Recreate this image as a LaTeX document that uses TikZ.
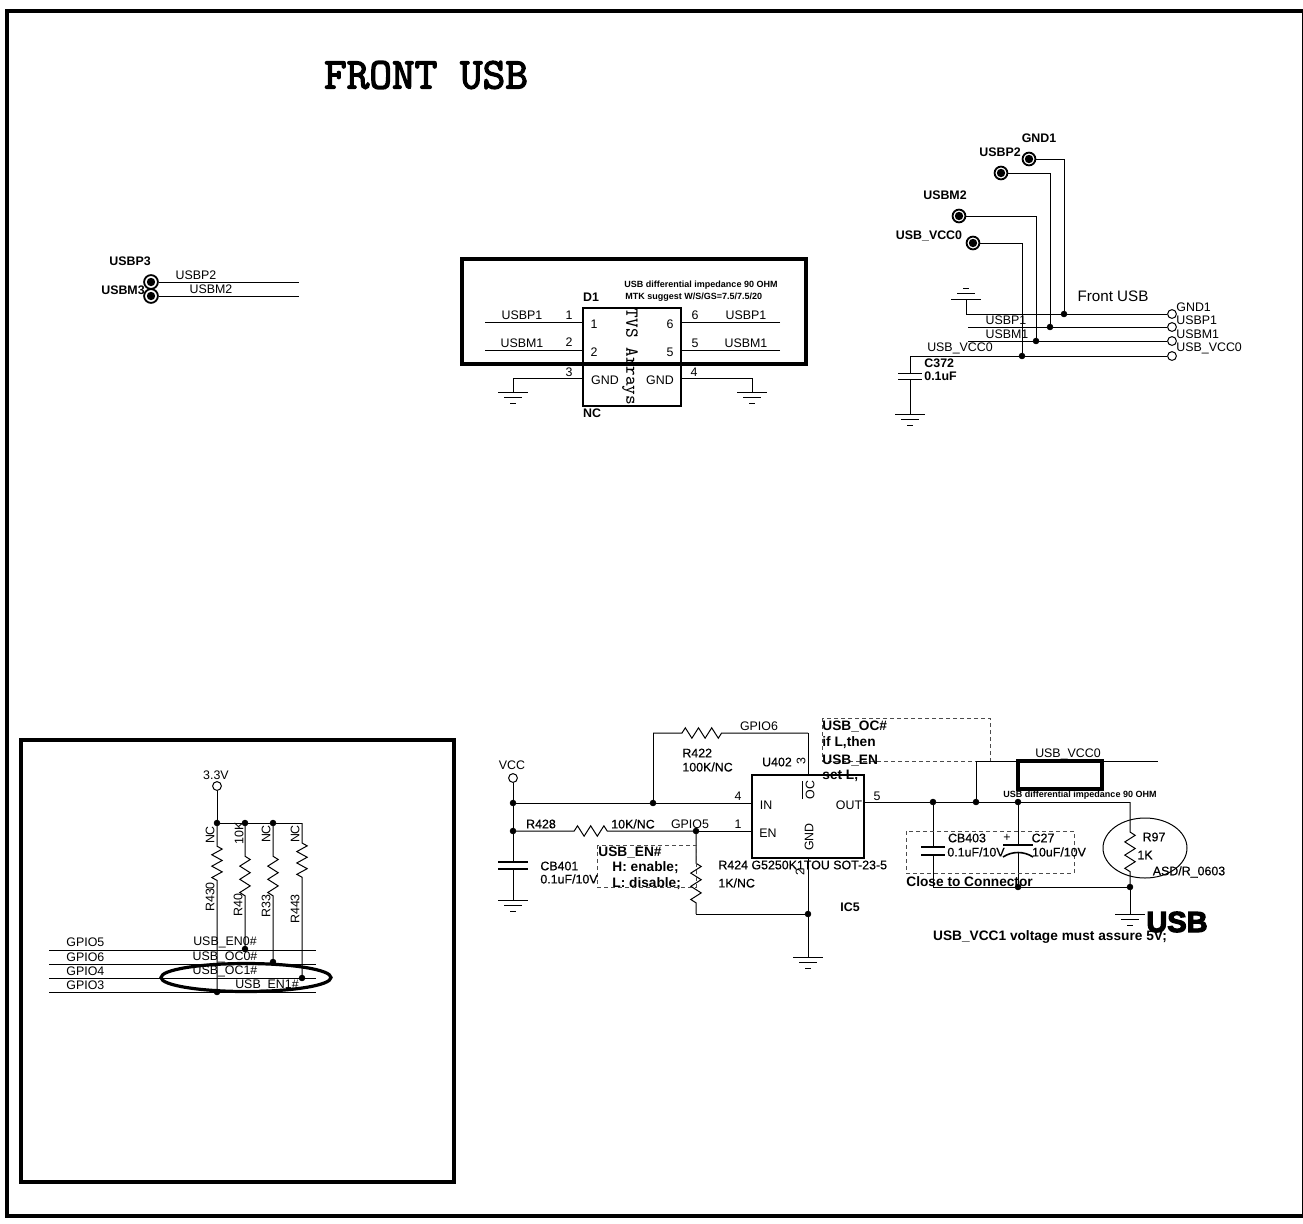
\documentclass[tikz,border=0pt]{standalone}
\usepackage{fontspec}
\setmainfont{Liberation Sans}
\newfontfamily\medfont[FakeBold=0.5]{Liberation Sans}
\newfontfamily\heavyfont[FakeBold=4]{Liberation Sans Bold}
\newfontfamily\titlefont[FakeBold=3]{Latin Modern Mono}
\usetikzlibrary{calc,positioning,decorations.pathmorphing}
\tikzset{
    lbl/.style={
    inner sep=0pt,font=\fontsize{6.2}{6.2}\selectfont,text=black
    },
    med/.style={
    inner sep=0pt,font=\fontsize{6.2}{6.2}\medfont,text=black
    },
    blbl/.style={
    inner sep=0pt,font=\fontsize{6.2}{6.2}\bfseries,text=black
    },
    bnote/.style={
    inner sep=0pt,font=\fontsize{6.85}{6.85}\bfseries,text=black
    },
    note/.style={
    inner sep=0pt,font=\fontsize{4.5}{4.5}\bfseries,text=black
    },
    dot/.style={
    circle,draw=black,fill=black,inner sep=0pt,minimum size=2.8pt
    },
    term/.style={
    circle,draw=black,fill=white,inner sep=0pt,minimum size=4.4pt,line width=0.5pt
    },
    pad/.style={
    circle,draw=black,fill=white,inner sep=0pt,minimum size=6.4pt,line width=0.9pt,
    path picture={\fill[black] (path picture bounding box.center) circle (2.1pt);}
    },
    wire/.style={
    draw=black,line width=0.5pt
    },
    heavy/.style={
    draw=black,line width=2.4pt
    },
    part/.style={
    rectangle,draw=black,line width=0.7pt,inner sep=0pt
    },
    dbox/.style={
    draw=black!70,line width=0.4pt,dash pattern=on 2pt off 1.5pt
    },
    res/.style 2 args={
    wire,decorate,decoration={zigzag,segment length=6.6pt,amplitude=2.6pt,
    pre length=#1,post length=#2}
    },
    gnd/.pic={
    \draw[wire] (-15,0) -- (15,0) (-9,5.5) -- (9,5.5) (-3,11) -- (3,11);
    },
}
\begin{document}
\begin{tikzpicture}[x=0.5pt,y=-0.5pt]
   \useasboundingbox (0,0) rectangle (1303,1223);
   \draw[draw=black,line width=2pt] (7,10.5) rectangle (1304,1216);
   \node[inner sep=0pt,font=\fontsize{22}{22}\titlefont] (title) at (426,75) {FRONT USB};

   % test pads
   \node[pad,minimum size=6.9pt] (P3) at (151,282) {};
   \node[pad,minimum size=6.9pt] (M3) at (151,296) {};
   \coordinate (P3e) at (299,282);
   \coordinate (M3e) at (299,296);
   \node[blbl] (P3t) at (130,261) {USBP3};
   \node[blbl] (M3t) at (123,290) {USBM3};
   \node[lbl] (P3n) at (196,275) {USBP2};
   \node[lbl] (M3n) at (211,289) {USBM2};
   \draw[wire] (P3) -- (P3e);
   \draw[wire] (M3) -- (M3e);

   % TVS
   \draw[heavy] (462,259) rectangle (806,364);
   \node[part,minimum width=49pt,minimum height=49pt] (D1) at (632,357) {};
   \node[blbl] (D1t) at (591,297) {D1};
   \node[blbl] (D1n) at (592,413) {NC};
   \node[note] (Dz) at (701,285) {USB differential impedance 90 OHM};
   \node[note,anchor=west] (Dm) at (625,297) {MTK suggest W/S/GS=7.5/7.5/20};
   \node[inner sep=0pt,rotate=-90,font=\fontsize{9.2}{9.2}\ttfamily] (Da) at (630,357) {TVS Arrays};
   \coordinate (A1) at (485,322);
   \coordinate (A2) at (485,350);
   \coordinate (A3) at (513,392);
   \coordinate (A6) at (780,322);
   \coordinate (A5) at (780,350);
   \coordinate (A4) at (752,392);
   \draw[wire] (A1) -- (D1.west |- A1);
   \draw[wire] (A2) -- (D1.west |- A2);
   \draw[wire] (A6) -- (D1.east |- A6);
   \draw[wire] (A5) -- (D1.east |- A5);
   \draw[wire] (A3) -- ($(A3 |- D1.west)+(0,21)$) -- ($(D1.west)+(0,21)$);
   \draw[wire] (A4) -- ($(A4 |- D1.east)+(0,21)$) -- ($(D1.east)+(0,21)$);
   \pic at (A3) {gnd};
   \pic at (A4) {gnd};
   \node[lbl] (Dw1) at (522,315) {USBP1};
   \node[lbl] (Dw2) at (522,343) {USBM1};
   \node[lbl] (Dw6) at (746,315) {USBP1};
   \node[lbl] (Dw5) at (746,343) {USBM1};
   \node[lbl] (Dn1) at (569,315) {1};
   \node[lbl] (Dn2) at (569,342) {2};
   \node[lbl] (Dn3) at (569,372) {3};
   \node[lbl] (Dn4) at (694,372) {4};
   \node[lbl] (Dn5) at (695,343) {5};
   \node[lbl] (Dn6) at (695,315) {6};
   \node[lbl] (Di1) at (594,324) {1};
   \node[lbl] (Di2) at (594,352) {2};
   \node[lbl] (Di6) at (670,324) {6};
   \node[lbl] (Di5) at (670,352) {5};
   \node[lbl] (Dg1) at (605,380) {GND};
   \node[lbl] (Dg2) at (660,380) {GND};

   % front USB header
   \node[pad] (Pg) at (1029,159) {};
   \node[pad] (Pp) at (1001,173) {};
   \node[pad] (Pm) at (959,216) {};
   \node[pad] (Pv) at (973,243) {};
   \node[dot] (Jg) at (1064,314) {};
   \node[dot] (Jp) at (1050,327) {};
   \node[dot] (Jm) at (1036,341) {};
   \node[dot] (Jv) at (1022,356) {};
   \node[term] (Tg) at (1172,314) {};
   \node[term] (Tp) at (1172,327) {};
   \node[term] (Tm) at (1172,341) {};
   \node[term] (Tv) at (1172,356) {};
   \coordinate (Gf) at (966,299);
   \coordinate (Lp) at (968,327);
   \coordinate (Lm) at (968,341);
   \coordinate (Cf) at (910,373);
   \coordinate (Cg) at (910,379);
   \coordinate (Gc) at (910,414);
   \draw[wire] (Pg) -| (Jg);
   \draw[wire] (Pp) -| (Jp);
   \draw[wire] (Pm) -| (Jm);
   \draw[wire] (Pv) -| (Jv);
   \draw[wire] (Gf) |- (Jg) -- (Tg);
   \draw[wire] (Lp) -- (Jp) -- (Tp);
   \draw[wire] (Lm) -- (Jm) -- (Tm);
   \draw[wire] (Cf) |- (Jv) -- (Tv);
   \draw[wire] (Cg) -- (Gc);
   \draw[wire] ($(Cf)+(-12,0)$) -- ($(Cf)+(12,0)$);
   \draw[wire] ($(Cg)+(-12,0)$) -- ($(Cg)+(12,0)$);
   \pic at (Gc) {gnd};
   \pic[yscale=-1] at (Gf) {gnd};
   \node[blbl] (Ptg) at (1039,138) {GND1};
   \node[blbl] (Ptp) at (1000,152) {USBP2};
   \node[blbl] (Ptm) at (945,195) {USBM2};
   \node[blbl] (Ptv) at (929,236) {USB\_VCC0};
   \node[inner sep=0pt,font=\fontsize{7.6}{7.6}\selectfont] (Ft) at (1113,296) {Front USB};
   \node[lbl,anchor=west] (Tgt) at (1176,307) {GND1};
   \node[lbl,anchor=west] (Tpt) at (1176,320) {USBP1};
   \node[lbl,anchor=west] (Tmt) at (1176,334) {USBM1};
   \node[lbl,anchor=west] (Tvt) at (1176,348) {USB\_VCC0};
   \node[lbl] (Lpt) at (1006,320) {USBP1};
   \node[lbl] (Lmt) at (1007,334) {USBM1};
   \node[lbl] (Lvt) at (960,348) {USB\_VCC0};
   \node[blbl,anchor=west] (C372) at (924,363) {C372};
   \node[blbl,anchor=west] (C372v) at (924,376) {0.1uF};

   % power switch
   \node[part,minimum width=56pt,minimum height=41.5pt] (U402) at (808,816.5) {};
   \node[term] (Vcc) at (513,778) {};
   \node[dot] (Ja) at (513,803) {};
   \node[dot] (Jb) at (513,831) {};
   \node[dot] (Jc) at (653,803) {};
   \node[dot] (Jd) at (696,831) {};
   \node[dot] (Je) at (808,914) {};
   \coordinate (Ca) at (513,862);
   \coordinate (Cb) at (513,869);
   \coordinate (Gb) at (513,900);
   \coordinate (Rt) at (653,733);
   \coordinate (Rr) at (808,733);
   \coordinate (Rb) at (696,914);
   \coordinate (Ge) at (808,957);
   \draw[wire] (Vcc) -- (Ja) -- (Jb) -- (Ca);
   \draw[wire] (Cb) -- (Gb);
   \draw[wire,line width=0.8pt] ($(Ca)+(-15,0)$) -- ($(Ca)+(15,0)$);
   \draw[wire,line width=0.8pt] ($(Cb)+(-15,0)$) -- ($(Cb)+(15,0)$);
   \pic at (Gb) {gnd};
   \draw[wire] (Ja) -- (Jc) -- (U402.west |- Jc);
   \draw[wire] (Jc) -- (Rt);
   \draw[res={14.5pt}{42.5pt}] (Rt) -- (Rr);
   \draw[wire] (Rr) -- (U402.north);
   \draw[res={29pt}{40pt}] (Jb) -- (Jd);
   \draw[wire] (Jd) -- (U402.west |- Jd);
   \draw[res={14.5pt}{5pt}] (Jd) -- (Rb);
   \draw[wire] (Rb) -- (Je);
   \draw[wire] (U402.south) -- (Je) -- (Ge);
   \pic at (Ge) {gnd};
   \draw[dbox] (822,718) rectangle (990,761);
   \draw[dbox] (597,845) rectangle (696,887);
   \node[lbl] (Vt) at (512,765) {VCC};
   \node[lbl] (G6) at (759,726) {GPIO6};
   \node[med,anchor=west] (R422) at (682,753) {R422};
   \node[med,anchor=west] (R422v) at (682,767) {100K/NC};
   \node[med] (U4t) at (777,762) {U402};
   \node[lbl,rotate=90] (U3) at (801,761) {3};
   \node[lbl] (U4) at (738,796) {4};
   \node[lbl] (U1) at (738,824) {1};
   \node[lbl] (U5) at (877,796) {5};
   \node[lbl,rotate=90] (U2) at (800,872) {2};
   \node[lbl] (Uin) at (766,805) {IN};
   \node[lbl] (Uen) at (768,833) {EN};
   \node[lbl] (Uout) at (849,805) {OUT};
   \node[lbl,rotate=90] (Uoc) at (808,790) {$\overline{\mbox{OC}}$};
   \node[lbl,rotate=90] (Ugnd) at (809,837) {GND};
   \node[med] (R428) at (541,824) {R428};
   \node[med] (R428v) at (633,824) {10K/NC};
   \node[lbl] (G5) at (690,824) {GPIO5};
   \node[med,anchor=west] (CB401) at (540,866) {CB401};
   \node[med,anchor=west] (CB401v) at (540,879) {0.1uF/10V};
   \node[med,anchor=west] (R424) at (718,865) {R424 G5250K1TOU SOT-23-5};
   \node[med,anchor=west] (R424v) at (718,883) {1K/NC};
   \node[blbl] (IC5) at (850,907) {IC5};
   \node[bnote,anchor=west] (Ot1) at (822,727) {USB\_OC\#};
   \node[bnote,anchor=west] (Ot2) at (822,743) {if L,then};
   \node[bnote,anchor=west] (Ot3) at (822,761) {USB\_EN};
   \node[bnote,anchor=west] (Ot4) at (822,776) {set L,};
   \node[bnote,anchor=west] (Et1) at (598,853) {USB\_EN\#};
   \node[bnote,anchor=west] (Et2) at (612,868) {H: enable;};
   \node[bnote,anchor=west] (Et3) at (612,884) {L: disable;};

   % output side
   \node[dot] (Jf) at (933,802) {};
   \node[dot] (Jg2) at (976,802) {};
   \node[dot] (Jh) at (1018,802) {};
   \node[dot] (Ji) at (1018,887) {};
   \node[dot] (Jj) at (1130,887) {};
   \coordinate (Oc) at (1130,802);
   \coordinate (Cl) at (933,887);
   \coordinate (Ca3) at (933,847);
   \coordinate (Cb3) at (933,855);
   \coordinate (Ca4) at (1018,845);
   \coordinate (Cb4) at (1018,852);
   \coordinate (Ov) at (976,761);
   \coordinate (Oe) at (1158,761);
   \coordinate (Gj) at (1130,914);
   \draw[wire] (U402.east |- Jf) -- (Jf) -- (Jg2) -- (Jh) -- (Oc);
   \draw[res={15pt}{5.5pt}] (Oc) -- (Jj);
   \draw[wire] (Jj) -- (Gj);
   \pic at (Gj) {gnd};
   \draw[wire] (Jg2) -- (Ov) -- (Oe);
   \draw[wire] (Jf) -- (Ca3);
   \draw[wire] (Cb3) -- (Cl) -- (Ji) -- (Jj);
   \draw[wire] (Jh) -- (Ca4);
   \draw[wire] (Cb4) -- (Ji);
   \draw[wire,line width=0.8pt] ($(Ca3)+(-12,0)$) -- ($(Ca3)+(12,0)$);
   \draw[wire,line width=0.8pt] ($(Cb3)+(-12,0)$) -- ($(Cb3)+(12,0)$);
   \draw[wire,line width=0.8pt] ($(Ca4)+(-15,0)$) -- ($(Ca4)+(15,0)$);
   \draw[wire,line width=0.8pt] ($(Cb4)+(-15,5)$) .. controls ($(Cb4)+(-6,-1)$) and ($(Cb4)+(6,-1)$) .. ($(Cb4)+(15,5)$);
   \draw[draw=black,line width=2pt] (1018,761) rectangle (1102,789);
   \draw[dbox] (906,831) rectangle (1074,873);
   \draw[wire] (1145,848) ellipse (42 and 30);
   \node[lbl] (Vo) at (1068,754) {USB\_VCC0};
   \node[note] (Oz) at (1080,795) {USB differential impedance 90 OHM};
   \node[med] (CB403) at (967,838) {CB403};
   \node[med] (CB403v) at (976,852) {0.1uF/10V};
   \node[lbl] (Cp) at (1007,838) {+};
   \node[med] (C27) at (1043,838) {C27};
   \node[med] (C27v) at (1059,852) {10uF/10V};
   \node[bnote,anchor=west] (Ct) at (906,882) {Close to Connector};
   \node[med] (R97) at (1154,837) {R97};
   \node[med] (R97v) at (1145,855) {1K};
   \node[med] (Rs) at (1189,872) {ASD/R\_0603};
   \node[inner sep=0pt,font=\fontsize{14.5}{14.5}\heavyfont] (Ub) at (1177,922) {USB};
   \node[bnote] (Uv) at (1050,937) {USB\_VCC1 voltage must assure 5V;};

   % pull ups
   \draw[heavy] (21,740) rectangle (454,1182);
   \node[term] (V33) at (217,786) {};
   \node[dot] (Ka) at (217,823) {};
   \node[dot] (Kb) at (245,823) {};
   \node[dot] (Kc) at (273,823) {};
   \coordinate (Kd) at (302,823);
   \node[dot] (Ke) at (217,992) {};
   \node[dot] (Kf) at (245,949) {};
   \node[dot] (Kg) at (273,962) {};
   \node[dot] (Kh) at (302,978) {};
   \coordinate (N1a) at (49,950);
   \coordinate (N1b) at (316,950);
   \coordinate (N2a) at (49,964);
   \coordinate (N2b) at (316,964);
   \coordinate (N3a) at (49,978);
   \coordinate (N3b) at (316,978);
   \coordinate (N4a) at (49,992);
   \coordinate (N4b) at (316,992);
   \draw[wire] (V33) -- (Ka) -- (Kb) -- (Kc) -- (Kd);
   \draw[wire] (N1a) -- (N1b);
   \draw[wire] (N2a) -- (N2b);
   \draw[wire] (N3a) -- (N3b);
   \draw[wire] (N4a) -- (N4b);
   \draw[res={10pt}{54pt},decoration={segment length=5.7pt}] (Ka) -- (Ke);
   \draw[res={15pt}{24pt}] (Kb) -- (Kf);
   \draw[res={15pt}{31pt}] (Kc) -- (Kg);
   \draw[res={10pt}{48.5pt},decoration={segment length=5.7pt}] (Kd) -- (Kh);
   \draw[draw=black,line width=1.6pt] (246,977.5) ellipse (85 and 14);
   \node[lbl] (V33t) at (216,775) {3.3V};
   \node[lbl,rotate=90] (Ra1) at (210,835) {NC};
   \node[lbl,rotate=90] (Rb1) at (239,833) {10K};
   \node[lbl,rotate=90] (Rc1) at (266,834) {NC};
   \node[lbl,rotate=90] (Rd1) at (295,834) {NC};
   \node[lbl,rotate=90] (Ra2) at (210,897) {R430};
   \node[lbl,rotate=90] (Rb2) at (238,905) {R40};
   \node[lbl,rotate=90] (Rc2) at (266,906) {R33};
   \node[lbl,rotate=90] (Rd2) at (295,909) {R443};
   \node[lbl,anchor=west] (N1t) at (66,942) {GPIO5};
   \node[lbl,anchor=west] (N2t) at (66,957) {GPIO6};
   \node[lbl,anchor=west] (N3t) at (66,971) {GPIO4};
   \node[lbl,anchor=west] (N4t) at (66,985) {GPIO3};
   \node[lbl] (N1n) at (225,942) {USB\_EN0\#};
   \node[lbl] (N2n) at (225,957) {USB\_OC0\#};
   \node[lbl] (N3n) at (225,971) {USB\_OC1\#};
   \node[lbl] (N4n) at (267,985) {USB\_EN1\#};
\end{tikzpicture}
\end{document}
